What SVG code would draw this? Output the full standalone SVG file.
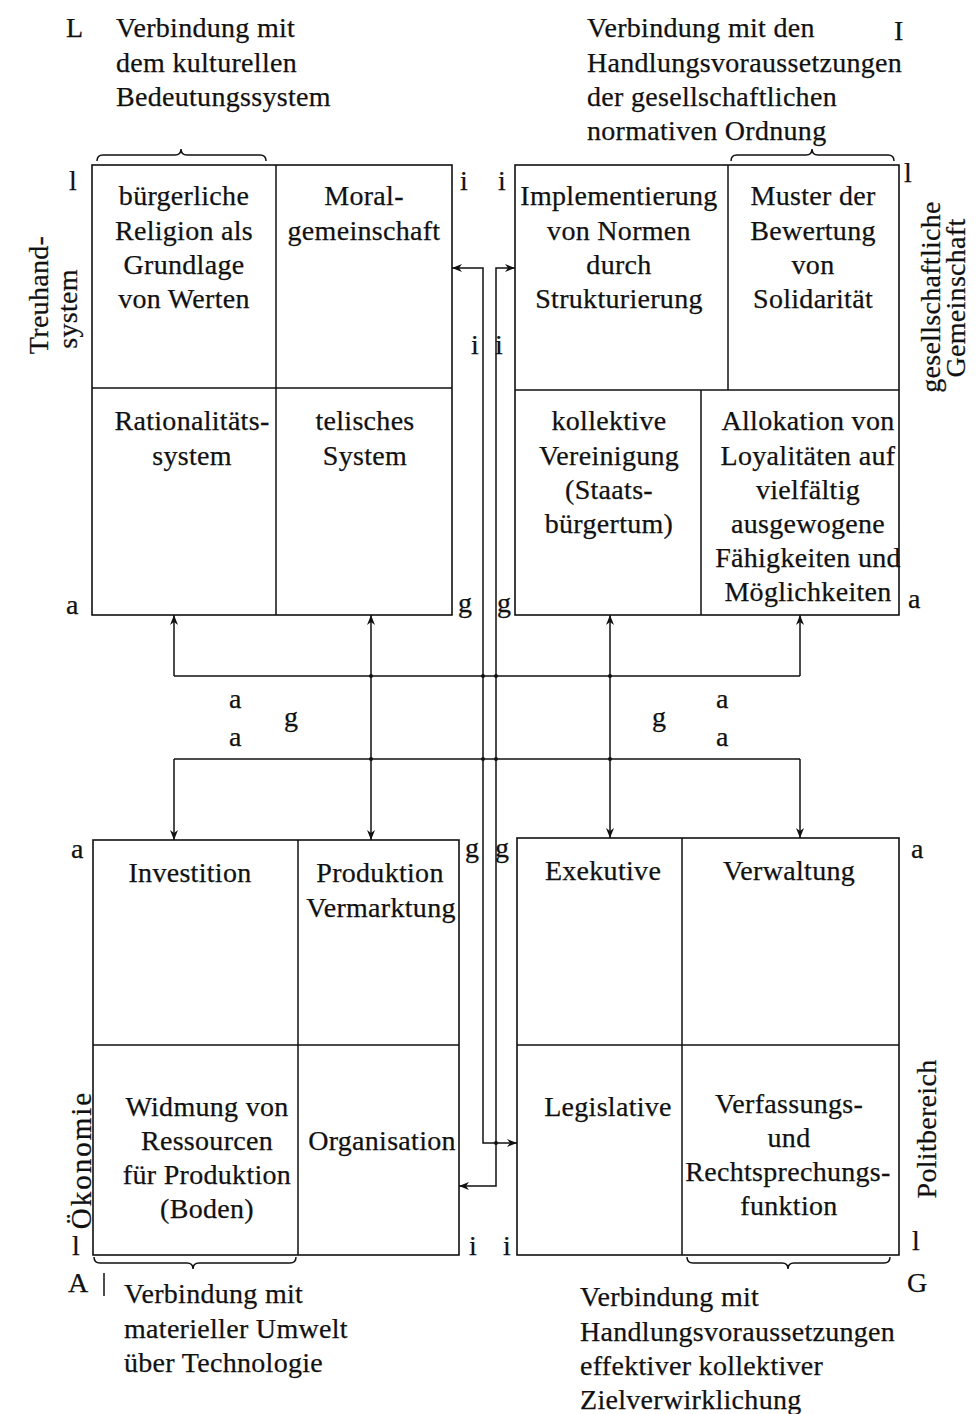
<svg xmlns="http://www.w3.org/2000/svg" width="977" height="1414" viewBox="0 0 977 1414">
<style>
text{font-family:"Liberation Serif","Times New Roman",serif;font-size:28px;fill:#111;stroke:#111;stroke-width:0.25;letter-spacing:0.3px}
.m{text-anchor:middle}
.box{fill:none;stroke:#111;stroke-width:1.6}
.ln{fill:none;stroke:#111;stroke-width:1.5}
.br{fill:none;stroke:#111;stroke-width:1.5}
.dot{fill:#111}
</style>
<defs>
<marker id="ah" viewBox="0 0 10 8" refX="10" refY="4" markerWidth="10" markerHeight="8" orient="auto-start-reverse" markerUnits="userSpaceOnUse">
<path d="M0,0 L10,4 L0,8 L3,4 Z" fill="#111"/>
</marker>
</defs>

<g id="header-L">
<text x="66" y="37">L</text>
<text x="116" y="37">Verbindung mit</text>
<text x="116" y="72">dem kulturellen</text>
<text x="116" y="106">Bedeutungssystem</text>
</g>
<g id="header-I">
<text x="587" y="37">Verbindung mit den</text>
<text x="587" y="72">Handlungsvoraussetzungen</text>
<text x="587" y="106">der gesellschaftlichen</text>
<text x="587" y="140">normativen Ordnung</text>
<text x="894" y="40">I</text>
</g>

<g id="braces">
<path class="br" d="M97,161 Q97,155 103,155 H175 Q181,155 181,149 Q181,155 187,155 H260 Q266,155 266,161"/>
<path class="br" d="M731,161 Q731,155 737,155 H806 Q812,155 812,149 Q812,155 818,155 H888 Q894,155 894,161"/>
<path class="br" d="M94,1257 Q94,1263 100,1263 H187 Q193,1263 193,1269 Q193,1263 199,1263 H290 Q296,1263 296,1257"/>
<path class="br" d="M687,1257 Q687,1263 693,1263 H782 Q788,1263 788,1269 Q788,1263 794,1263 H884 Q890,1263 890,1257"/>
</g>

<g id="treuhandsystem">
<rect class="box" x="92" y="165" width="360" height="450"/>
<line class="ln" x1="276" y1="165" x2="276" y2="615"/>
<line class="ln" x1="92" y1="388" x2="452" y2="388"/>
<text class="m" x="184" y="205">bürgerliche</text>
<text class="m" x="184" y="240">Religion als</text>
<text class="m" x="184" y="274">Grundlage</text>
<text class="m" x="184" y="308">von Werten</text>
<text class="m" x="364" y="205">Moral-</text>
<text class="m" x="364" y="240">gemeinschaft</text>
<text class="m" x="192" y="430">Rationalitäts-</text>
<text class="m" x="192" y="465">system</text>
<text class="m" x="365" y="430">telisches</text>
<text class="m" x="365" y="465">System</text>
<text x="69" y="190">l</text>
<text x="460" y="190">i</text>
<text x="66" y="614">a</text>
<text x="458" y="612">g</text>
<text class="m" transform="translate(48,295) rotate(-90)">Treuhand-</text>
<text class="m" transform="translate(77,309) rotate(-90)">system</text>
</g>

<g id="gemeinschaft">
<rect class="box" x="515" y="165" width="384" height="450"/>
<line class="ln" x1="728" y1="165" x2="728" y2="390"/>
<line class="ln" x1="515" y1="390" x2="899" y2="390"/>
<line class="ln" x1="701" y1="390" x2="701" y2="615"/>
<text class="m" x="619" y="205">Implementierung</text>
<text class="m" x="619" y="240">von Normen</text>
<text class="m" x="619" y="274">durch</text>
<text class="m" x="619" y="308">Strukturierung</text>
<text class="m" x="813" y="205">Muster der</text>
<text class="m" x="813" y="240">Bewertung</text>
<text class="m" x="813" y="274">von</text>
<text class="m" x="813" y="308">Solidarität</text>
<text class="m" x="609" y="430">kollektive</text>
<text class="m" x="609" y="465">Vereinigung</text>
<text class="m" x="609" y="499">(Staats-</text>
<text class="m" x="609" y="533">bürgertum)</text>
<text class="m" x="808" y="430">Allokation von</text>
<text class="m" x="808" y="465">Loyalitäten auf</text>
<text class="m" x="808" y="499">vielfältig</text>
<text class="m" x="808" y="533">ausgewogene</text>
<text class="m" x="808" y="567">Fähigkeiten und</text>
<text class="m" x="808" y="601">Möglichkeiten</text>
<text x="498" y="190">i</text>
<text x="904" y="182">l</text>
<text x="497" y="612">g</text>
<text x="908" y="608">a</text>
<text class="m" transform="translate(940,297) rotate(-90)">gesellschaftliche</text>
<text class="m" transform="translate(965,298) rotate(-90)">Gemeinschaft</text>
</g>

<g id="oekonomie">
<rect class="box" x="93" y="840" width="366" height="415"/>
<line class="ln" x1="298" y1="840" x2="298" y2="1255"/>
<line class="ln" x1="93" y1="1045" x2="459" y2="1045"/>
<text class="m" x="190" y="882">Investition</text>
<text class="m" x="380" y="882">Produktion</text>
<text class="m" x="381" y="917">Vermarktung</text>
<text class="m" x="207" y="1116">Widmung von</text>
<text class="m" x="207" y="1150">Ressourcen</text>
<text class="m" x="207" y="1184">für Produktion</text>
<text class="m" x="207" y="1218">(Boden)</text>
<text class="m" x="382" y="1150">Organisation</text>
<text x="71" y="858">a</text>
<text x="465" y="857">g</text>
<text x="72" y="1255">l</text>
<text x="469" y="1255">i</text>
<text class="m" transform="translate(91,1160) rotate(-90)" style="font-size:29px;letter-spacing:2px">Ökonomie</text>
<text x="68" y="1292">A</text>
<line class="ln" x1="104" y1="1273" x2="104" y2="1296"/>
<text x="124" y="1303">Verbindung mit</text>
<text x="124" y="1338">materieller Umwelt</text>
<text x="124" y="1372">über Technologie</text>
</g>

<g id="politbereich">
<rect class="box" x="517" y="838" width="382" height="417"/>
<line class="ln" x1="682" y1="838" x2="682" y2="1255"/>
<line class="ln" x1="517" y1="1045" x2="899" y2="1045"/>
<text class="m" x="603" y="880">Exekutive</text>
<text class="m" x="789" y="880">Verwaltung</text>
<text class="m" x="608" y="1116">Legislative</text>
<text class="m" x="789" y="1113">Verfassungs-</text>
<text class="m" x="789" y="1147">und</text>
<text class="m" x="788" y="1181">Rechtsprechungs-</text>
<text class="m" x="789" y="1215">funktion</text>
<text x="495" y="857">g</text>
<text x="911" y="858">a</text>
<text x="503" y="1255">i</text>
<text x="912" y="1250">l</text>
<text class="m" transform="translate(936,1129) rotate(-90)">Politbereich</text>
<text x="907" y="1292">G</text>
<text x="580" y="1306">Verbindung mit</text>
<text x="580" y="1341">Handlungsvoraussetzungen</text>
<text x="580" y="1375">effektiver kollektiver</text>
<text x="580" y="1409">Zielverwirklichung</text>
</g>

<g id="connectors">
<path class="ln" d="M174,676 V615" marker-end="url(#ah)"/>
<path class="ln" d="M174,759 V840" marker-end="url(#ah)"/>
<path class="ln" d="M371,615 V840" marker-start="url(#ah)" marker-end="url(#ah)"/>
<path class="ln" d="M610,615 V838" marker-start="url(#ah)" marker-end="url(#ah)"/>
<path class="ln" d="M800,676 V615" marker-end="url(#ah)"/>
<path class="ln" d="M800,759 V838" marker-end="url(#ah)"/>
<path class="ln" d="M174,676 H800"/>
<path class="ln" d="M174,759 H800"/>
<path class="ln" d="M452,268 H483 V1143 H517" marker-start="url(#ah)" marker-end="url(#ah)"/>
<path class="ln" d="M515,268 H496 V1186 H459" marker-start="url(#ah)" marker-end="url(#ah)"/>
<circle class="dot" cx="371" cy="676" r="2"/>
<circle class="dot" cx="483" cy="676" r="2"/>
<circle class="dot" cx="496" cy="676" r="2"/>
<circle class="dot" cx="610" cy="676" r="2"/>
<circle class="dot" cx="371" cy="759" r="2"/>
<circle class="dot" cx="483" cy="759" r="2"/>
<circle class="dot" cx="496" cy="759" r="2"/>
<circle class="dot" cx="610" cy="759" r="2"/>
<circle class="dot" cx="496" cy="1143" r="2"/>
</g>

<g id="labels-middle">
<text x="471" y="354">i</text>
<text x="495" y="354">i</text>
<text x="229" y="708">a</text>
<text x="284" y="726">g</text>
<text x="229" y="746">a</text>
<text x="652" y="726">g</text>
<text x="716" y="708">a</text>
<text x="716" y="746">a</text>
</g>
</svg>
